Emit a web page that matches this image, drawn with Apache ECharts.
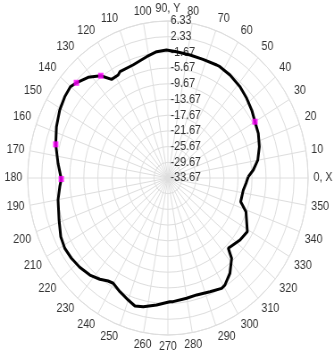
<!DOCTYPE html>
<html>
<head>
<meta charset="utf-8">
<script src="https://cdn.jsdelivr.net/npm/echarts@6/dist/echarts.min.js"></script>
<style>
  html, body { margin: 0; padding: 0; background: #fff; overflow: hidden; }
  /* the plot is drawn a little wider and squeezed horizontally into an ellipse */
  #chart { width: 373px; height: 362px; transform: scaleX(0.893); transform-origin: 0 0; }
</style>
</head>
<body>
<div id="chart"></div>
<script>
// Pattern direction in degrees (0 = +X axis, counter-clockwise)
const patternAngles = [0.8, 4.8, 10.1, 17.0, 23.8, 30.0, 35.9, 42.1, 48.5, 56.0, 62.4, 64.2,
  71.7, 78.6, 85.6, 90.7, 95.7, 101.1, 109.1, 116.8, 118.4, 122.6, 126.3, 131.6, 137.1,
  140.1, 144.9, 150.7, 157.7, 165.0, 173.2, 180.5, 184.1, 190.1, 199.0, 206.1, 211.3,
  216.6, 222.1, 228.0, 233.0, 237.0, 239.8, 244.7, 250.0, 253.9, 257.9, 264.3, 271.0,
  272.7, 279.9, 285.4, 292.5, 298.6, 300.8, 306.1, 311.6, 313.9, 322.5, 328.9, 338.9,
  343.8, 351.9, 356.5];
// Gain at each direction (dB)
const patternGain = [-10.74, -9.23, -7.63, -6.39, -5.48, -4.98, -4.15, -3.38, -2.62, -2.01,
  -1.67, -1.69, -1.82, -1.69, -1.39, -1.06, -1.34, -2.18, -3.20, -3.32, -3.84, -3.84,
  -1.34, 0.62, 1.97, 2.58, 2.31, 1.72, 0.70, -0.54, -2.11, -3.25, -2.74, -1.84, -0.83,
  0.37, 0.78, 0.62, 0.24, -0.40, -1.37, -2.38, -2.64, -1.62, -0.58, 0.27, -0.14, -1.16,
  -2.15, -2.13, -2.56, -2.77, -2.31, -1.65, -1.92, -3.63, -6.29, -8.83, -7.74, -7.20,
  -9.80, -12.04, -11.95, -11.35];
// Highlighted measurement points
const markerAngles = [30.0, 126.3, 137.1, 165.0, 180.5];
const markerGain = [-4.98, -1.34, 1.97, -0.54, -3.25];
// Radial scale (dB)
const gainMin = -33.67;
const gainMax = 6.33;
const gainStep = 4;

// The angle axis starts at the top (90°), so directions are shifted onto it
function toAxisAngle(deg) {
  return (((deg - 90) % 360) + 360) % 360;
}
function toPolarData(angles, gains) {
  return angles.map((a, i) => [gains[i], toAxisAngle(a)]);
}

const lineData = toPolarData(patternAngles, patternGain);
lineData.push(lineData[0]); // close the loop
const markerData = toPolarData(markerAngles, markerGain);

const gridColor = '#dedede';
const textColor = '#333';
const chart = echarts.init(document.getElementById('chart'), null, { renderer: 'canvas' });
chart.setOption({
  animation: false,
  backgroundColor: '#fff',
  polar: { center: [188, 178], radius: 157 },
  angleAxis: {
    type: 'value',
    min: 0,
    max: 360,
    interval: 10,
    startAngle: 90,
    clockwise: false,
    axisLine: { show: true, lineStyle: { color: gridColor, width: 1 } },
    axisTick: { show: false },
    splitLine: { show: true, lineStyle: { color: gridColor, width: 1 } },
    axisLabel: {
      margin: 6,
      color: textColor,
      fontSize: 12,
      fontFamily: 'Liberation Sans, Arial, sans-serif',
      formatter: function (v) {
        if (v >= 360) return '';
        const d = Math.round(v + 90) % 360;
        if (d === 0) return '0, X';
        if (d === 90) return '90, Y';
        return String(d);
      }
    }
  },
  radiusAxis: {
    type: 'value',
    min: gainMin,
    max: gainMax,
    interval: gainStep,
    axisLine: { show: false },
    axisTick: { show: false },
    splitLine: { show: true, lineStyle: { color: gridColor, width: 1 } },
    axisLabel: {
      margin: -3,
      align: 'left',
      verticalAlign: 'middle',
      color: textColor,
      fontSize: 12,
      fontFamily: 'Liberation Sans, Arial, sans-serif',
      formatter: function (v) { return v.toFixed(2); }
    }
  },
  series: [
    {
      type: 'line',
      coordinateSystem: 'polar',
      data: lineData,
      symbol: 'none',
      lineStyle: { color: '#000', width: 3 },
      z: 3
    },
    {
      type: 'scatter',
      coordinateSystem: 'polar',
      data: markerData,
      symbol: 'rect',
      symbolSize: 6,
      itemStyle: { color: '#ff00ff' },
      z: 4
    }
  ]
});
</script>
</body>
</html>
